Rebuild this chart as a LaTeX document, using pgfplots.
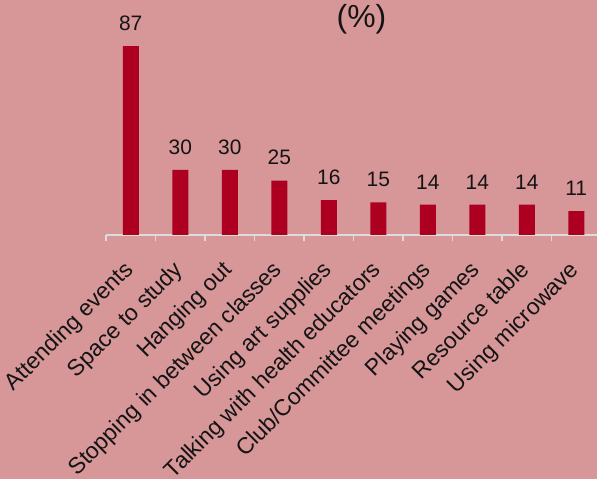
\documentclass[border=0pt]{standalone}
\usepackage{pgfplots}
\pgfplotsset{compat=1.18}
\usepackage{fontspec}
\setmainfont{Liberation Sans}
\definecolor{bg}{HTML}{D79698}
\definecolor{barred}{HTML}{AD0021}
\definecolor{axisgray}{HTML}{DCDCDC}
\definecolor{txt}{HTML}{141414}

\begin{document}
\begin{tikzpicture}[x=1bp,y=1bp]
\fill[bg] (0,0) rectangle (597,479);
\begin{axis}[
    at={(106bp,244bp)}, anchor=south west,
    scale only axis,
    width=495bp, height=217.2bp,
    xmin=-0.5, xmax=9.5,
    ymin=0, ymax=100,
    axis x line=bottom,
    axis y line=none,
    axis line style={axisgray, line width=1.5bp, -},
    xtick={0,...,9},
    xticklabels={Attending events,Space to study,Hanging out,Stopping in between classes,Using art supplies,Talking with health educators,Club/Committee meetings,Playing games,Resource table,Using microwave},
    major tick length=0pt,
    minor xtick={-0.5,0.5,...,9.5},
    minor tick length=6bp,
    tick align=outside,
    minor x tick style={axisgray, line width=1.5bp},
    xticklabel style={xshift=-8bp, yshift=-24bp, rotate=45, anchor=north east, font=\fontsize{23}{26}\selectfont, text=txt, inner sep=0pt},
    /pgf/number format/assume math mode=true,
    nodes near coords,
    every node near coord/.append style={font=\fontsize{21}{24}\selectfont, text=txt, yshift=12bp},
    clip=false,
]
\addplot[ybar, bar width=16bp, fill=barred, draw=none] coordinates {
    (0,87) (1,30) (2,30) (3,25) (4,16) (5,15) (6,14) (7,14) (8,14) (9,11)
};
\end{axis}
\node[anchor=base, font=\fontsize{32}{36}\selectfont, text=txt] at (361.5,451) {(\%)};
\pgfresetboundingbox
\useasboundingbox (0,0) rectangle (597,479);
\end{tikzpicture}
\end{document}
